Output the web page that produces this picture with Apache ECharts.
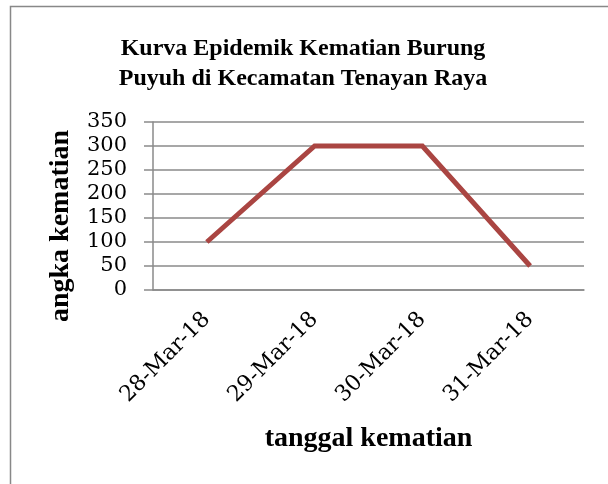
<!DOCTYPE html>
<html>
<head>
<meta charset="utf-8">
<script src="https://cdn.jsdelivr.net/npm/echarts@6/dist/echarts.min.js"></script>
<style>
  html, body { margin: 0; padding: 0; background: #fff; }
  #main { width: 608px; height: 484px; }
</style>
</head>
<body>
<div id="main"></div>
<script>
// data
var tanggal = ['28-Mar-18', '29-Mar-18', '30-Mar-18', '31-Mar-18'];
var kematian = [100, 300, 300, 50];
var yTicks = [0, 50, 100, 150, 200, 250, 300, 350];

var serif = 'DejaVu Serif';
var myChart = echarts.init(document.getElementById('main'));

var option = {
  backgroundColor: '#fff',
  animation: false,
  title: {
    text: 'Kurva Epidemik Kematian Burung\nPuyuh di Kecamatan Tenayan Raya',
    left: 298,
    top: 29,
    textAlign: 'center',
    textStyle: {
      fontFamily: 'Liberation Serif',
      fontWeight: 'bold',
      fontSize: 24,
      lineHeight: 30,
      color: '#000'
    }
  },
  graphic: [{
    type: 'rect',
    shape: { x: 10.5, y: 6.5, width: 800, height: 700 },
    style: { fill: 'none', stroke: '#888', lineWidth: 1.5 },
    silent: true
  }],
  grid: { left: 153, right: 24, top: 122, bottom: 194 },
  xAxis: {
    type: 'category',
    data: tanggal,
    boundaryGap: true,
    name: 'tanggal kematian',
    nameLocation: 'middle',
    nameGap: 135,
    nameTextStyle: { fontFamily: 'Liberation Serif', fontWeight: 'bold', fontSize: 28, color: '#000' },
    axisLine: { lineStyle: { color: '#8a8a8a', width: 1.5 } },
    axisTick: { show: false },
    axisLabel: { rotate: 45, margin: 26, fontFamily: serif, fontSize: 22, color: '#000' }
  },
  yAxis: {
    type: 'value',
    min: 0,
    max: yTicks[yTicks.length - 1],
    interval: yTicks[1] - yTicks[0],
    name: 'angka kematian',
    nameLocation: 'middle',
    nameGap: 78,
    nameTextStyle: { fontFamily: 'Liberation Serif', fontWeight: 'bold', fontSize: 28, color: '#000', padding: [0, 40, 0, 0] },
    axisLine: { show: true, lineStyle: { color: '#8a8a8a', width: 1.5 } },
    axisTick: { show: true, length: 9, lineStyle: { color: '#8a8a8a', width: 1.5 } },
    axisLabel: { margin: 26, fontFamily: serif, fontSize: 21, color: '#000' },
    splitLine: { lineStyle: { color: '#8a8a8a', width: 1.5 } }
  },
  series: [{
    name: 'kematian',
    type: 'line',
    data: kematian,
    symbol: 'none',
    lineStyle: { color: '#AA4542', width: 5, join: 'miter' }
  }]
};

myChart.setOption(option);
</script>
</body>
</html>
